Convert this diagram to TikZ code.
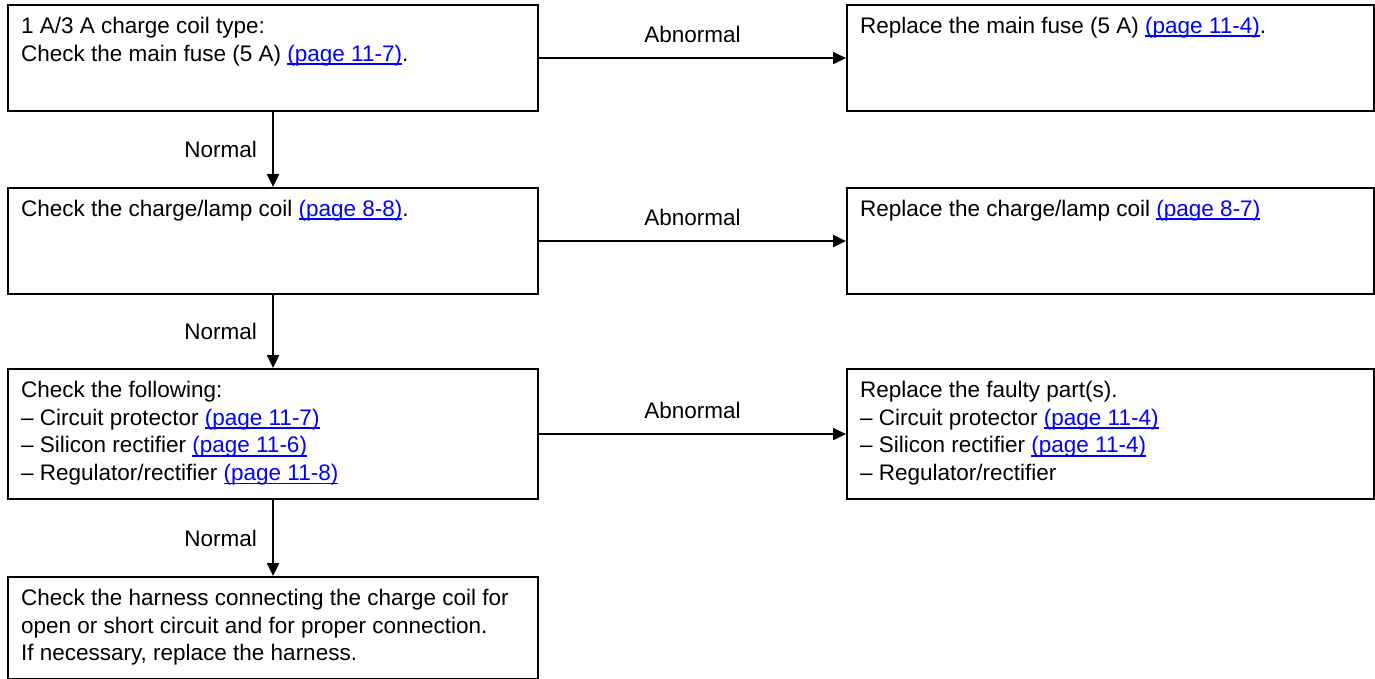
\documentclass[tikz,border=0pt]{standalone}
\usepackage{fontspec}
\setmainfont{Liberation Sans}
\usetikzlibrary{arrows.meta}
\definecolor{linkblue}{RGB}{0,0,255}
% page reference shown as a blue link with a close underline
\newcommand\pgref[1]{\textcolor{linkblue}{\setbox0\hbox{#1}\rlap{\rule[-3.6pt]{\wd0}{1.5pt}}\box0}}
% box body: fixed outer size (w, h), text set from the top-left corner
\newcommand\boxbody[3]{\parbox[c][\dimexpr#2pt-24pt\relax][t]{\dimexpr#1pt-26pt\relax}{\raggedright #3}}
\begin{document}
\begin{tikzpicture}[x=1pt,y=-1pt,
  every node/.style={font=\fontsize{22.5}{27.8}\selectfont},
  box/.style={draw, line width=2.1pt, anchor=north west, inner xsep=13pt, inner ysep=12pt, align=left},
  flow/.style={line width=2.1pt, -{Triangle[length=13pt,width=12pt]}},
  lbl/.style={inner sep=0pt}]
\useasboundingbox (0,0) rectangle (1375,679);

\node[box] (b1) at (7,4) {\boxbody{530}{106}{1 A/3 A charge coil type:\\Check the main fuse (5 A) \pgref{(page 11-7)}.}};
\node[box] (r1) at (846,4) {\boxbody{527}{106}{Replace the main fuse (5 A) \pgref{(page 11-4)}.}};

\node[box] (b2) at (7,187) {\boxbody{530}{106}{Check the charge/lamp coil \pgref{(page 8-8)}.}};
\node[box] (r2) at (846,187) {\boxbody{527}{106}{Replace the charge/lamp coil \pgref{(page 8-7)}}};

\node[box] (b3) at (7,368) {\boxbody{530}{130}{Check the following:\\
\textendash{} Circuit protector \pgref{(page 11-7)}\\
\textendash{} Silicon rectifier \pgref{(page 11-6)}\\
\textendash{} Regulator/rectifier \pgref{(page 11-8)}}};
\node[box] (r3) at (846,368) {\boxbody{527}{130}{Replace the faulty part(s).\\
\textendash{} Circuit protector \pgref{(page 11-4)}\\
\textendash{} Silicon rectifier \pgref{(page 11-4)}\\
\textendash{} Regulator/rectifier}};

\node[box] (b4) at (7,576) {\boxbody{530}{102}{Check the harness connecting the charge coil for\\
open or short circuit and for proper connection.\\
If necessary, replace the harness.}};

% abnormal branches
\draw[flow] (b1.east) -- node[lbl, above=14pt] {Abnormal} (r1.west);
\draw[flow] (b2.east) -- node[lbl, above=14pt] {Abnormal} (r2.west);
\draw[flow] (b3.east) -- node[lbl, above=14pt] {Abnormal} (r3.west);

% normal path
\draw[flow] (b1.south) -- node[lbl, left=15pt] {Normal} (b2.north);
\draw[flow] (b2.south) -- node[lbl, left=15pt] {Normal} (b3.north);
\draw[flow] (b3.south) -- node[lbl, left=15pt] {Normal} (b4.north);
\end{tikzpicture}
\end{document}
